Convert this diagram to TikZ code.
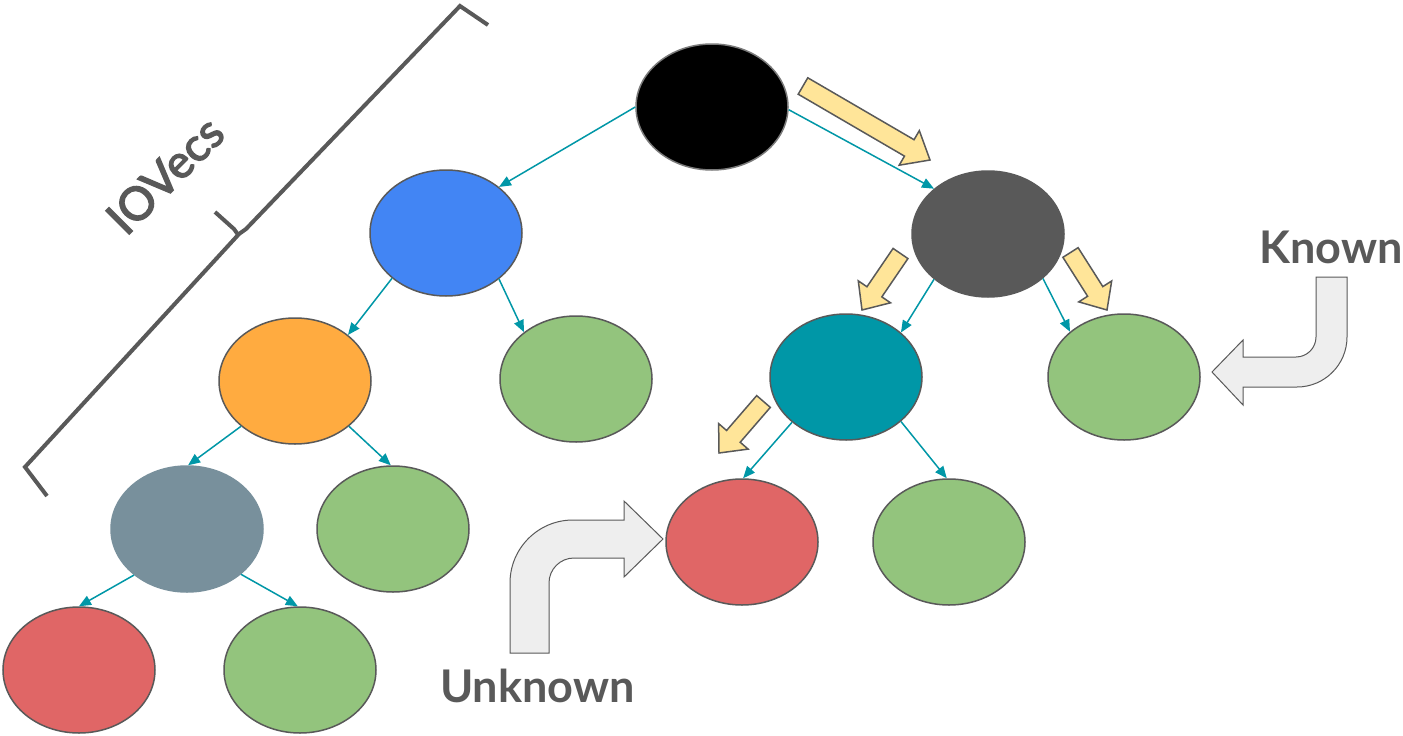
\documentclass[tikz,border=0pt]{standalone}
\usepackage{fontspec}
\setmainfont{Lato}
\newfontfamily\iovfont[FakeBold=3]{Lato}
\usetikzlibrary{arrows.meta,calc,shapes.geometric}
\definecolor{bord}{HTML}{595959}
\definecolor{tealc}{HTML}{0097A7}
\definecolor{blueC}{HTML}{4285F4}
\definecolor{orangeC}{HTML}{FFAB40}
\definecolor{greenC}{HTML}{93C47D}
\definecolor{redC}{HTML}{E06666}
\definecolor{slateC}{HTML}{78909C}
\definecolor{darkC}{HTML}{595959}
\definecolor{yel}{HTML}{FFE599}
\definecolor{lgray}{HTML}{EEEEEE}
\tikzset{
  nd/.style={ellipse, draw=bord, line width=1.5pt, minimum width=152pt, minimum height=126pt, inner sep=0pt},
  con/.style={draw=tealc, line width=1.5pt, -{Triangle[length=12pt,width=10pt]}},
  yarr/.style={draw=bord, fill=yel, line width=1.5pt, line join=miter},
  garr/.style={draw=bord, fill=lgray, line width=1pt},
  lbl/.style={text=bord, font=\fontsize{45}{52}\selectfont\bfseries, inner sep=0pt},
  brk/.style={draw=bord, line width=4pt},
}
\newcommand\yelarrow[5]{%
  \coordinate (ya) at (#1); \coordinate (yb) at (#2);
  \coordinate (yh) at ($(yb)!#5!(ya)$);
  \draw[yarr] ($(ya)!#3!90:(yb)$) -- ($(yh)!#3!90:(yb)$) -- ($(yh)!#4!90:(yb)$) -- (yb)
     -- ($(yh)!#4!-90:(yb)$) -- ($(yh)!#3!-90:(yb)$) -- ($(ya)!#3!-90:(yb)$) -- cycle;}
\begin{document}
\begin{tikzpicture}[x=1pt,y=-1pt]
\useasboundingbox (0,0) rectangle (1403,736);
\fill[white] (0,0) rectangle (1403,736);

% nodes
\node[nd, fill=black, draw=bord!80] (blk) at (712,107) {};
\node[nd, fill=blueC] (blu) at (446,233) {};
\node[nd, fill=darkC] (dg) at (988,234) {};
\node[nd, fill=orangeC] (org) at (295,381) {};
\node[nd, fill=greenC] (g1) at (576,379) {};
\node[nd, fill=tealc] (tl) at (846,377) {};
\node[nd, fill=greenC] (g2) at (1124,377) {};
\node[nd, fill=slateC, draw=slateC] (sl) at (187,529) {};
\node[nd, fill=greenC] (g3) at (393,529) {};
\node[nd, fill=redC] (r1) at (742,542) {};
\node[nd, fill=greenC] (g4) at (949,542) {};
\node[nd, fill=redC] (r2) at (79,670) {};
\node[nd, fill=greenC] (g5) at (300,670) {};

% connectors
\draw[con] (blk.180) -- (blu.41);
\draw[con] (blk.-2) -- (dg.140);
\draw[con] (blu.220) -- (org.41);
\draw[con] (blu.-41) -- (g1.138);
\draw[con] (dg.220) -- (tl.39);
\draw[con] (dg.-39) -- (g2.140);
\draw[con] (org.220) -- (sl.89);
\draw[con] (org.-40) -- (g3.92);
\draw[con] (tl.220) -- (r1.89);
\draw[con] (tl.-39) -- (g4.92);
\draw[con] (sl.221) -- (r2.90);
\draw[con] (sl.-40) -- (g5.92);

% yellow block arrows
\yelarrow{803,86}{930,160}{9.5pt}{20pt}{24pt}
\yelarrow{900.5,253.5}{862,310}{9pt}{19.5pt}{22pt}
\yelarrow{1070.5,252.5}{1107,310}{9pt}{19.5pt}{22pt}
\yelarrow{763.5,401.5}{719,453}{9pt}{19.5pt}{22pt}

% bracket
\draw[brk] (488,25) -- (460,6) -- (246,229) -- (239,234) -- (25,467) -- (47,496);
\draw[brk] (215,212) -- (234,229) -- (239,236);
\node[text=bord, font=\iovfont\fontsize{46}{52}\selectfont, rotate=45, inner sep=0pt] (iov) at (165,175) {IOVecs};

% gray bent arrows
\draw[garr] (1316,277) -- (1347,277) -- (1347,337) .. controls (1347,364.6) and (1324.6,387) .. (1297,387)
  -- (1243,387) -- (1243,405) -- (1212,372) -- (1243,340) -- (1243,357) -- (1296,357)
  .. controls (1307,357) and (1316,348) .. (1316,337) -- cycle;
\draw[garr] (510,653) -- (510,583) .. controls (510,548.2) and (538.2,520) .. (573,520)
  -- (624,520) -- (624,501) -- (663,539) -- (624,577) -- (624,558) -- (574,558)
  .. controls (560.2,558) and (549,569.2) .. (549,583) -- (549,653) -- cycle;

\node[lbl, anchor=base] (known) at (1331,263) {Known};
\node[lbl, anchor=base] (unknown) at (537.5,702) {Unknown};
\end{tikzpicture}
\end{document}
